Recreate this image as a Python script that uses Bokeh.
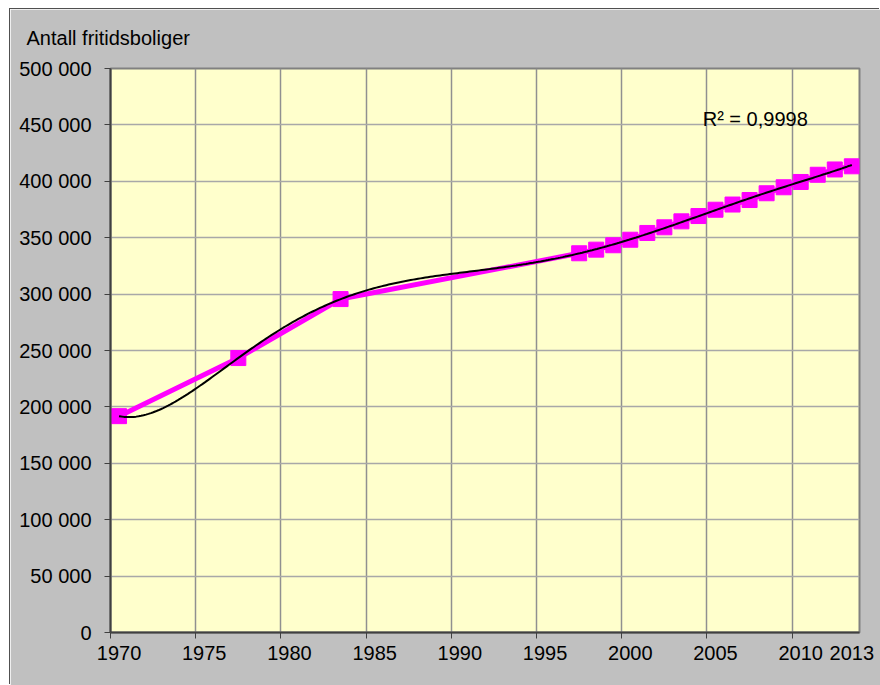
import numpy as np
from bokeh.plotting import figure
from bokeh.models import Range1d, FixedTicker, LinearAxis
from bokeh.embed import file_html
from bokeh.resources import INLINE

# Data
years = [1970, 1977, 1983, 1997, 1998, 1999, 2000, 2001, 2002, 2003, 2004,
         2005, 2006, 2007, 2008, 2009, 2010, 2011, 2012, 2013]
cabins = [191800, 243300, 295600, 336200, 339400, 343300, 348200, 354200,
          359200, 364500, 369200, 374800, 379400, 383400, 389400, 394700,
          399400, 405800, 410500, 413300]
x_tick_labels = [1970, 1975, 1980, 1985, 1990, 1995, 2000, 2005, 2010, 2013]
grid_years = [1970, 1975, 1980, 1985, 1990, 1995, 2000, 2005, 2010]
y_ticks = list(range(0, 500001, 50000))
y_tick_labels = ["0", "50 000", "100 000", "150 000", "200 000", "250 000",
                 "300 000", "350 000", "400 000", "450 000", "500 000"]
title_text = "Antall fritidsboliger"
r2_text = "R² = 0,9998"
r2_pos = (2004.75, 454800)

# points (and year labels) sit at mid-year
xs = np.array(years, dtype=float) + 0.5
ys = np.array(cabins, dtype=float)
label_pos = [y + 0.5 for y in x_tick_labels]

# polynomial trendline (6th order, as in the spreadsheet)
coef = np.polyfit(xs - 1990.0, ys, 6)
tx = np.linspace(xs.min(), xs.max(), 300)
ty = np.polyval(coef, tx - 1990.0)

FONT = "Liberation Sans"
GRAY = "#C0C0C0"

p = figure(width=870, height=676, output_backend="svg", toolbar_location=None,
           x_range=Range1d(1970, 2013.95), y_range=Range1d(0, 500000),
           min_border_left=100, min_border_right=21, min_border_top=59,
           min_border_bottom=53)
p.styles = {"margin-left": "10px", "margin-top": "9px",
            "box-shadow": "-1px -1px 0 0 #505050"}
p.background_fill_color = "#FFFFCC"
p.border_fill_color = GRAY
p.outline_line_color = "#808080"
p.outline_line_width = 2

p.title.text = title_text
p.title.align = "left"
p.title.offset = -84
p.title.standoff = 35
p.title.text_font = FONT
p.title.text_font_size = "20px"
p.title.text_font_style = "normal"
p.title.text_color = "black"
p.title.vertical_align = "top"

# main x axis: tick marks at whole years, no labels
p.xaxis.ticker = FixedTicker(ticks=grid_years)
p.xaxis.major_label_overrides = {t: "" for t in grid_years}
p.xaxis.major_label_text_font_size = "1px"
p.xaxis.major_label_standoff = 0
p.xgrid.ticker = FixedTicker(ticks=grid_years)
p.yaxis.ticker = FixedTicker(ticks=y_ticks)
p.yaxis.major_label_overrides = {t: l for t, l in zip(y_ticks, y_tick_labels)}

for ax in (p.xaxis, p.yaxis):
    ax.axis_line_color = "#404040"
    ax.axis_line_width = 2
    ax.major_tick_line_color = "#404040"
    ax.major_tick_out = 6
    ax.major_tick_in = 0
    ax.minor_tick_line_color = None
p.yaxis.major_label_text_font = FONT
p.yaxis.major_label_text_font_size = "20px"
p.yaxis.major_label_text_color = "black"
p.yaxis.major_label_standoff = 13

# label axis: year labels centred on mid-year
lab = LinearAxis(ticker=FixedTicker(ticks=label_pos),
                 major_label_overrides={lp: str(y) for lp, y in zip(label_pos, x_tick_labels)})
lab.axis_line_color = None
lab.major_tick_line_color = None
lab.minor_tick_line_color = None
lab.major_tick_out = 0
lab.major_tick_in = 0
lab.major_label_standoff = 7
lab.major_label_text_font = FONT
lab.major_label_text_font_size = "20px"
lab.major_label_text_color = "black"
p.add_layout(lab, "below")

p.xgrid.grid_line_color = "#909090"
p.ygrid.grid_line_color = "#A8A8A8"
p.xgrid.grid_line_width = 1.5
p.ygrid.grid_line_width = 1.5

p.line(xs, ys, line_color="#FF00FF", line_width=5)
p.scatter(xs, ys, marker="square", size=15, fill_color="#FF00FF",
          line_color="#FF00FF")
p.line(tx, ty, line_color="black", line_width=2)

p.text(x=[r2_pos[0]], y=[r2_pos[1]], text=[r2_text], text_font_size="20px",
       text_font={"value": FONT}, text_color="black",
       text_baseline="alphabetic", text_align="left")

open("out.html", "w").write(file_html(p, INLINE))
